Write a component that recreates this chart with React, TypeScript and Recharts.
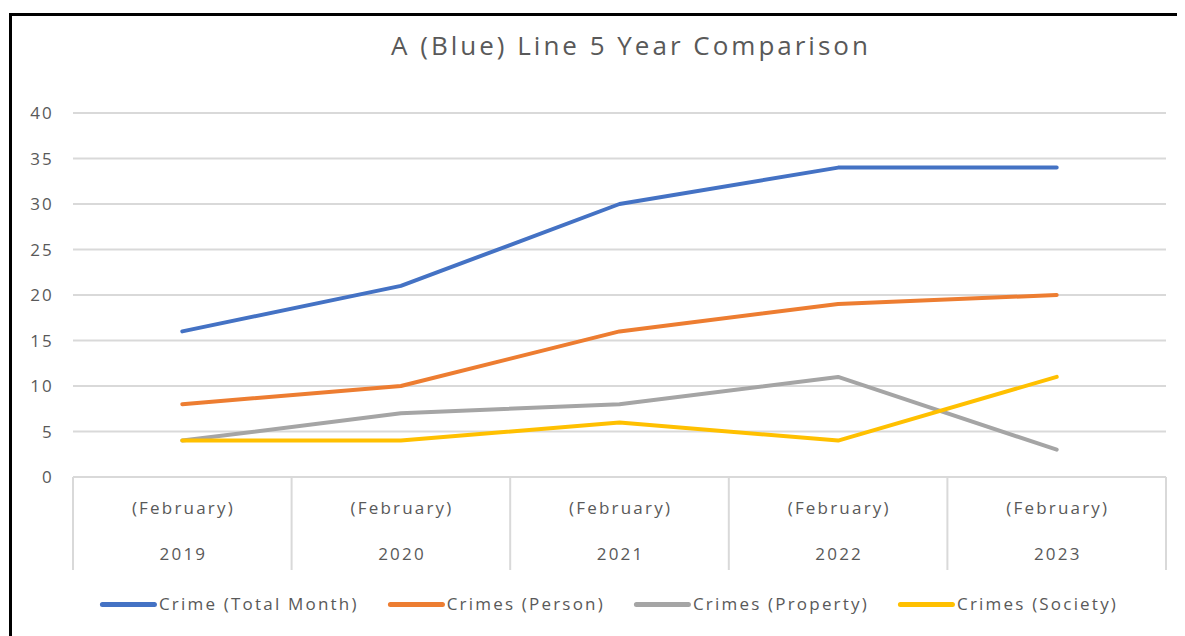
import React from "react";
import { ComposedChart, Line, XAxis, YAxis, CartesianGrid } from "recharts";

const years = ["2019", "2020", "2021", "2022", "2023"];
const month = "(February)";
const totalMonth = [16, 21, 30, 34, 34];
const person = [8, 10, 16, 19, 20];
const property = [4, 7, 8, 11, 3];
const society = [4, 4, 6, 4, 11];
const yTicks = [0, 5, 10, 15, 20, 25, 30, 35, 40];

const series = [
  { key: "total", name: "Crime (Total Month)", color: "#4472C4", values: totalMonth },
  { key: "person", name: "Crimes (Person)", color: "#ED7D31", values: person },
  { key: "property", name: "Crimes (Property)", color: "#A5A5A5", values: property },
  { key: "society", name: "Crimes (Society)", color: "#FFC000", values: society },
];

const data = years.map((y, i) => {
  const row: any = { year: y };
  series.forEach((s) => (row[s.key] = s.values[i]));
  return row;
});

const FONT = "'Open Sans', sans-serif";
const TEXT = "#595959";
const LS = 2.2;
const W = 1166;
const H = 561;
const margin = { top: 97, right: 12, left: 0, bottom: 0 };
const Y_W = 61;
const HALF = (W - margin.right - Y_W) / years.length / 2;

const CatTick = (props: any) => {
  const { x, y, payload, index } = props;
  const last = index === years.length - 1;
  return (
    <g>
      <line x1={x - HALF} x2={x - HALF} y1={y} y2={y + 93} stroke="#D9D9D9" strokeWidth={2} />
      {last && <line x1={x + HALF} x2={x + HALF} y1={y} y2={y + 93} stroke="#D9D9D9" strokeWidth={2} />}
      <text x={x + LS / 2} y={y + 37} textAnchor="middle" fill={TEXT} fontSize={17} fontFamily={FONT} letterSpacing={LS}>
        {month}
      </text>
      <text x={x + LS / 2} y={y + 83} textAnchor="middle" fill={TEXT} fontSize={17} fontFamily={FONT} letterSpacing={LS}>
        {payload.value}
      </text>
    </g>
  );
};

export default function App() {
  return (
    <div
      style={{
        position: "relative",
        marginTop: 5,
        marginLeft: 1,
        width: W,
        height: 620,
        border: "3px solid #000",
        background: "#fff",
        fontFamily: FONT,
      }}
    >
      <div
        style={{
          position: "absolute",
          left: 619,
          top: 13,
          transform: "translateX(-50%)",
          whiteSpace: "nowrap",
          fontSize: 26,
          lineHeight: "32px",
          letterSpacing: 3,
          color: TEXT,
        }}
      >
        A (Blue) Line 5 Year Comparison
      </div>
      <ComposedChart width={W} height={H} data={data} margin={margin}>
        <CartesianGrid vertical={false} stroke="#D9D9D9" strokeWidth={2} />
        <XAxis
          dataKey="year"
          height={100}
          padding={{ left: HALF, right: HALF }}
          tickLine={false}
          tickSize={0}
          tickMargin={0}
          axisLine={{ stroke: "#D9D9D9", strokeWidth: 2 }}
          tick={<CatTick />}
          interval={0}
        />
        <YAxis
          width={Y_W}
          domain={[0, 40]}
          ticks={yTicks}
          axisLine={false}
          tickLine={false}
          tickSize={0}
          tickMargin={19}
          tick={{ fill: TEXT, fontSize: 17, fontFamily: FONT, letterSpacing: LS }}
        />
        {series.map((s) => (
          <Line
            key={s.key}
            type="linear"
            dataKey={s.key}
            name={s.name}
            stroke={s.color}
            strokeWidth={4}
            strokeLinecap="round"
            strokeLinejoin="round"
            dot={false}
            isAnimationActive={false}
          />
        ))}
      </ComposedChart>
      <div
        style={{
          position: "absolute",
          left: 597,
          top: 576,
          transform: "translateX(-50%)",
          display: "flex",
          gap: 29,
          whiteSpace: "nowrap",
          fontSize: 17,
          lineHeight: "24px",
          letterSpacing: LS,
          color: TEXT,
        }}
      >
        {series.map((s) => (
          <div key={s.key} style={{ display: "flex", alignItems: "center" }}>
            <span
              style={{
                display: "inline-block",
                width: 57,
                height: 5,
                borderRadius: 3,
                background: s.color,
                marginRight: 2,
              }}
            />
            {s.name}
          </div>
        ))}
      </div>
    </div>
  );
}
